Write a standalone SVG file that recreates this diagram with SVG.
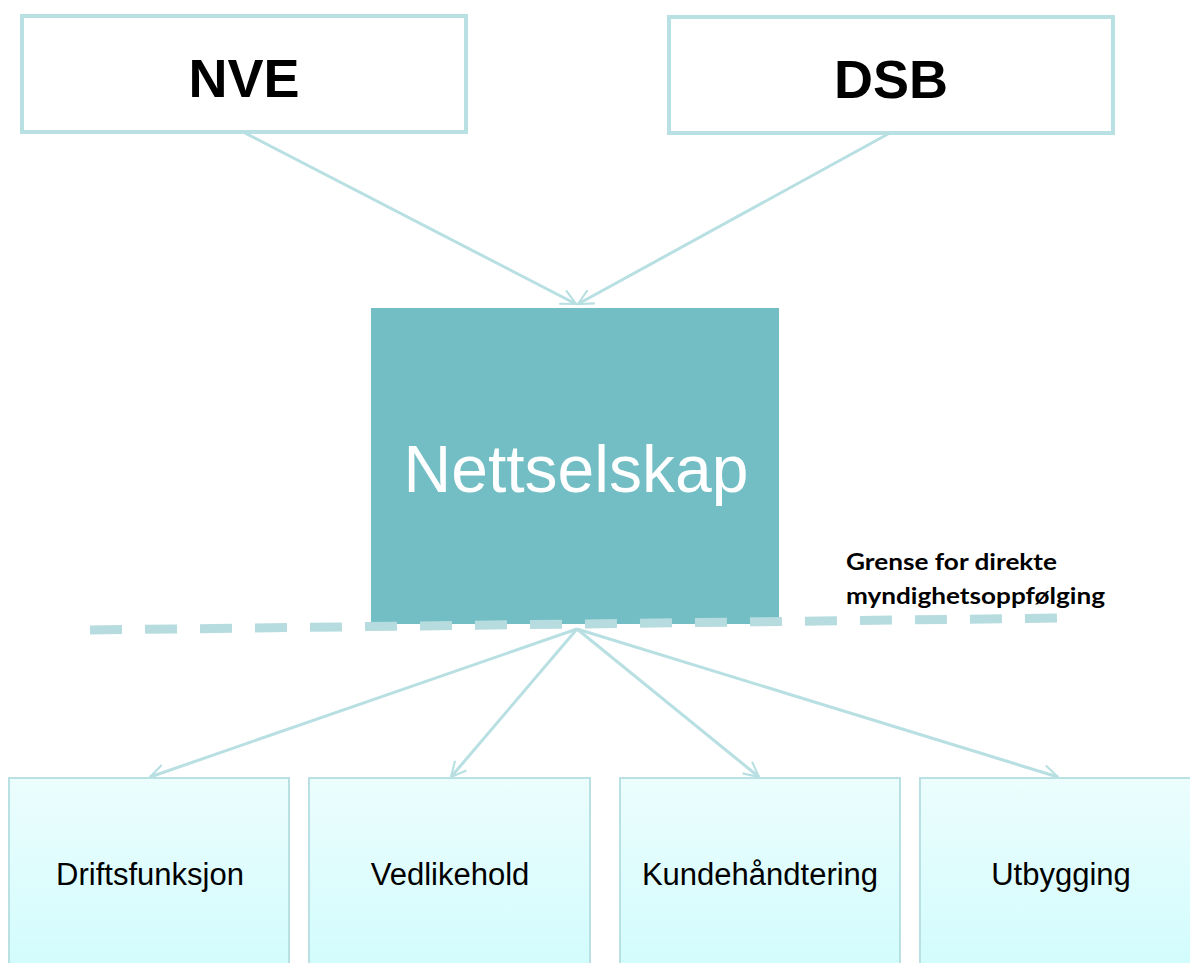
<svg xmlns="http://www.w3.org/2000/svg" width="1190" height="963" viewBox="0 0 1190 963">
<style>
.top{fill:#ffffff;stroke:#b9e1e4;stroke-width:4}
.toptxt{font-family:"Liberation Sans",Arial,sans-serif;font-weight:bold;font-size:54px;fill:#000;text-anchor:middle}
.sub{fill:url(#g);stroke:#b9e0e3;stroke-width:2}
.subtxt{font-family:"Liberation Sans",Arial,sans-serif;font-size:31px;fill:#000;text-anchor:middle}
.conn{stroke:#b8dfe2;stroke-width:3;fill:none;marker-end:url(#arr)}
.lbl{font-family:Lato,"Open Sans",sans-serif;font-weight:bold;font-size:23px;fill:#000}
</style>
<defs>
<linearGradient id="g" x1="0" y1="0" x2="0" y2="1">
<stop offset="0" stop-color="#ecfdfd"/>
<stop offset="1" stop-color="#d2fcfd"/>
</linearGradient>
<marker id="arr" viewBox="0 0 12 12" refX="11" refY="6" markerWidth="6" markerHeight="6" markerUnits="strokeWidth" orient="auto">
<path d="M1,1 L11,6 L1,11" fill="none" stroke="#b8dfe2" stroke-width="1.4"/>
</marker>
</defs>
<rect width="1190" height="963" fill="#ffffff"/>
<g id="connectors">
<line class="conn" x1="245" y1="133" x2="576" y2="304"/>
<line class="conn" x1="888" y1="134" x2="578" y2="304"/>
<line class="conn" x1="577" y1="629" x2="150" y2="777"/>
<line class="conn" x1="577" y1="629" x2="451" y2="777"/>
<line class="conn" x1="577" y1="629" x2="759" y2="777"/>
<line class="conn" x1="577" y1="629" x2="1058" y2="777"/>
</g>
<g id="nve">
<rect class="top" x="22" y="16" width="444" height="116"/>
<text class="toptxt" x="244" y="97">NVE</text>
</g>
<g id="dsb">
<rect class="top" x="669" y="17" width="444" height="116"/>
<text class="toptxt" x="891" y="98">DSB</text>
</g>
<g id="nettselskap">
<rect x="371" y="308" width="408" height="316" fill="#72bec4"/>
<text x="576" y="492" font-family="'Liberation Sans',Arial,sans-serif" font-size="66" fill="#ffffff" text-anchor="middle">Nettselskap</text>
</g>
<g id="grense">
<line x1="90" y1="630" x2="1062" y2="618" stroke="#b6dcdf" stroke-width="9" stroke-dasharray="32 23"/>
<text class="lbl" x="846" y="570" textLength="211" lengthAdjust="spacingAndGlyphs">Grense for direkte</text>
<text class="lbl" x="846" y="604" textLength="259" lengthAdjust="spacingAndGlyphs">myndighetsoppfølging</text>
</g>
<g id="driftsfunksjon">
<rect class="sub" x="9" y="778" width="280" height="190"/>
<text class="subtxt" x="150" y="885">Driftsfunksjon</text>
</g>
<g id="vedlikehold">
<rect class="sub" x="309" y="778" width="281" height="190"/>
<text class="subtxt" x="450" y="885">Vedlikehold</text>
</g>
<g id="kundehandtering">
<rect class="sub" x="620" y="778" width="280" height="190"/>
<text class="subtxt" x="760" y="885">Kundehåndtering</text>
</g>
<g id="utbygging">
<rect class="sub" x="920" y="778" width="280" height="190"/>
<text class="subtxt" x="1061" y="885">Utbygging</text>
</g>
</svg>
